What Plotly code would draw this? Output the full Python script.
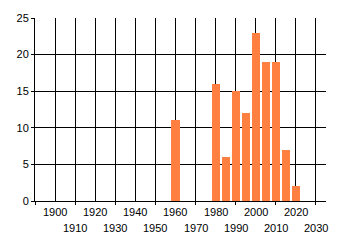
import plotly.graph_objects as go

years = [1960, 1980, 1985, 1990, 1995, 2000, 2005, 2010, 2015, 2020]
counts = [11, 16, 6, 15, 12, 23, 19, 19, 7, 2]
row1_labels = [1900, 1920, 1940, 1960, 1980, 2000, 2020]
row2_labels = [1910, 1930, 1950, 1970, 1990, 2010, 2030]

fig = go.Figure()
fig.add_trace(go.Bar(x=years, y=counts, width=4, marker=dict(color="#FF8040", line=dict(width=0))))

font = dict(family="Liberation Sans", size=11, color="black")
ann = []
for v in row1_labels:
    ann.append(dict(x=v, y=0, xref="x", yref="paper", text=str(v), showarrow=False,
                    yanchor="top", yshift=-3, font=font))
for v in row2_labels:
    ann.append(dict(x=v, y=0, xref="x", yref="paper", text=str(v), showarrow=False,
                    yanchor="top", yshift=-19, font=font))

fig.update_layout(
    width=340, height=245,
    margin=dict(l=35, r=14, t=15, b=44),
    paper_bgcolor="white", plot_bgcolor="white",
    showlegend=False, bargap=0,
    annotations=ann,
    xaxis=dict(range=[1890, 2035], tickvals=list(range(1890, 2031, 20)),
               ticks="outside", ticklen=3, tickcolor="black", tickwidth=1,
               showticklabels=False, showgrid=True, gridcolor="black", gridwidth=1,
               minor=dict(tickvals=list(range(1900, 2031, 20)), showgrid=True, gridcolor="black", gridwidth=1, ticks=""),
               zeroline=False, showline=True, linecolor="black", linewidth=1, fixedrange=True),
    yaxis=dict(range=[0, 25], dtick=5, tick0=0, ticks="outside", ticklen=3,
               tickcolor="black", tickwidth=1, showgrid=True, gridcolor="black", gridwidth=1,
               tickfont=font, zeroline=False, showline=True, linecolor="black", linewidth=1,
               fixedrange=True),
)
fig.write_html("out.html")
